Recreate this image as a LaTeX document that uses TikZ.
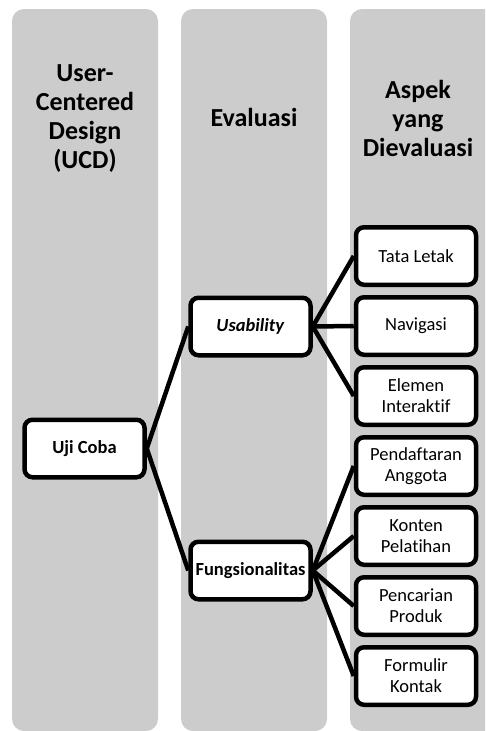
\documentclass[tikz,border=0pt]{standalone}
\usepackage{fontspec}
\setmainfont{Carlito}[Ligatures=NoCommon]
\usepackage{xcolor}
\usepackage{tikz}
\definecolor{panelgray}{HTML}{CCCCCC}
\definecolor{boxline}{HTML}{000000}

\begin{document}
\begin{tikzpicture}[
        x=1pt, y=-1pt,
        font=\fontsize{18.5}{21}\selectfont,
        panel/.style={
            fill=panelgray,
            rounded corners=12pt
        },
        heading/.style={
            font=\fontsize{26}{29}\selectfont\bfseries,
            align=center,
            text width=140pt,
            inner sep=0pt
        },
        item/.style={
            draw=boxline,
            fill=white,
            rounded corners=8pt,
            line width=4.5pt,
            align=center,
            inner sep=0pt,
            minimum width=120pt,
            minimum height=57.5pt
        },
        link/.style={line width=4.5pt, draw=boxline}
    ]
        \useasboundingbox (0,0) rectangle (485,731);
        \clip (0,0) rectangle (485,731);

        % columns
        \fill[panel] (12,9) rectangle (158,731);
        \fill[panel] (181,9) rectangle (327,731);
        \fill[panel] (350,9) rectangle (496,731);

        \node[heading] (ucdhead) at (85,119) {User-\\Centered\\Design\\(UCD)};
        \node[heading] (evalhead) at (254,117) {Evaluasi};
        \node[heading] (aspekhead) at (418,118) {Aspek\\yang\\Dievaluasi};

        \node[item] (ujicoba) at (84.5,448.5) {\textbf{Uji Coba}};
        \node[item] (usability) at (250.5,326.5) {\textbf{\textit{Usability}}};
        \node[item] (fungsi) at (250.5,570.5) {\textbf{Fungsionalitas}};

        \node[item] (tataletak) at (416,256) {Tata Letak};
        \node[item] (navigasi) at (416,326) {Navigasi};
        \node[item] (elemen) at (416,396) {Elemen\\Interaktif};
        \node[item] (daftar) at (416,466) {Pendaftaran\\Anggota};
        \node[item] (konten) at (416,536) {Konten\\Pelatihan};
        \node[item] (cari) at (416,606) {Pencarian\\Produk};
        \node[item] (kontak) at (416,676) {Formulir\\Kontak};

        \draw[link] (ujicoba.east) -- (usability.west);
        \draw[link] (ujicoba.east) -- (fungsi.west);
        \draw[link] (usability.east) -- (tataletak.west);
        \draw[link] (usability.east) -- (navigasi.west);
        \draw[link] (usability.east) -- (elemen.west);
        \draw[link] (fungsi.east) -- (daftar.west);
        \draw[link] (fungsi.east) -- (konten.west);
        \draw[link] (fungsi.east) -- (cari.west);
        \draw[link] (fungsi.east) -- (kontak.west);
    \end{tikzpicture}
\end{document}
